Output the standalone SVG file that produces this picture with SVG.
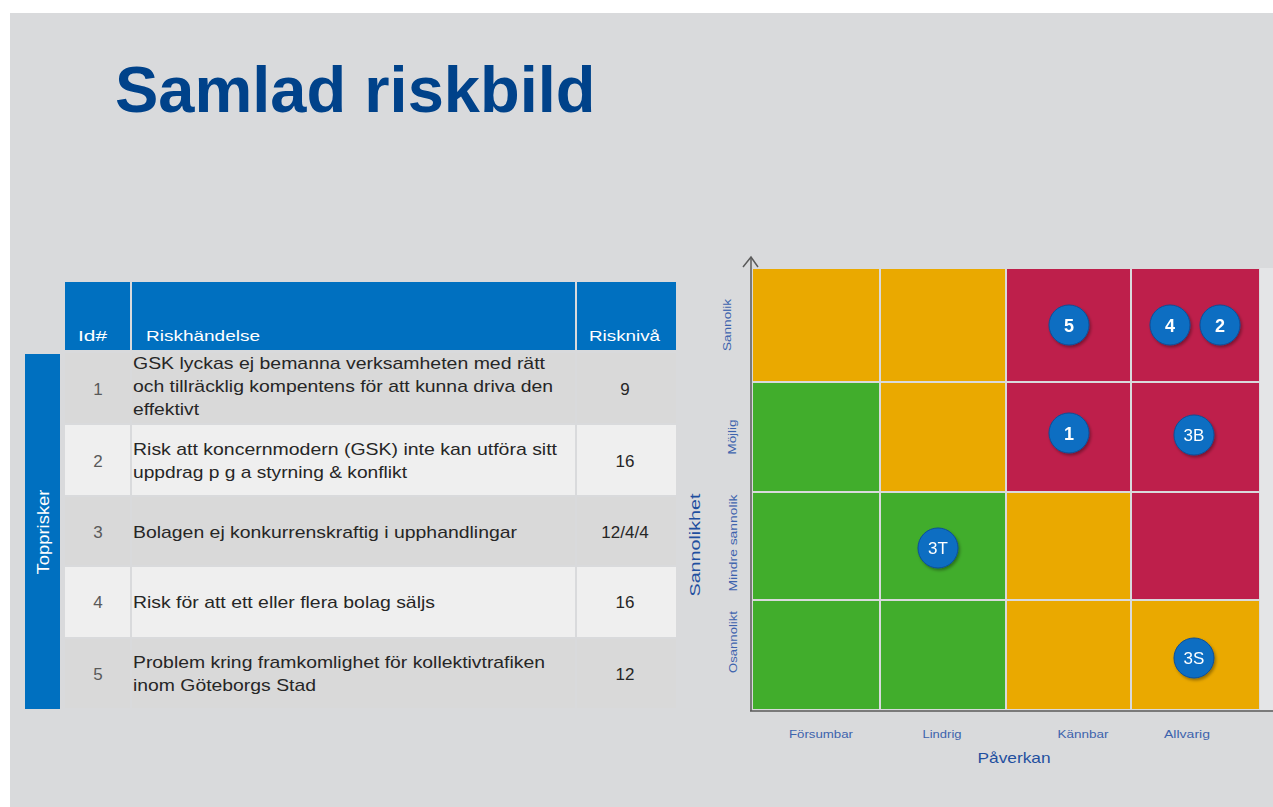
<svg xmlns="http://www.w3.org/2000/svg" width="1273" height="807" viewBox="0 0 1273 807">
<defs>
<style>
.title{font-family:"Liberation Sans",Arial,sans-serif;font-weight:bold;font-size:65px;fill:#00428a}
.hd{font-family:"Liberation Sans",Arial,sans-serif;font-size:15px;fill:#ffffff}
.tx{font-family:"Liberation Sans",Arial,sans-serif;font-size:17px;fill:#262626}
.id{font-family:"Liberation Sans",Arial,sans-serif;font-size:17px;fill:#595959;text-anchor:middle}
.val{font-family:"Liberation Sans",Arial,sans-serif;font-size:17px;fill:#262626;text-anchor:middle}
.side{font-family:"Liberation Sans",Arial,sans-serif;font-size:17px;fill:#ffffff;text-anchor:middle}
.ax{font-family:"Liberation Sans",Arial,sans-serif;font-size:11px;fill:#3d63ad;text-anchor:middle}
.axt{font-family:"Liberation Sans",Arial,sans-serif;font-size:15px;fill:#1f4f9f;text-anchor:middle}
.ct{font-family:"Liberation Sans",Arial,sans-serif;font-weight:bold;font-size:18px;fill:#ffffff;text-anchor:middle}
.ct2{font-family:"Liberation Sans",Arial,sans-serif;font-size:17px;fill:#ffffff;text-anchor:middle}
.dark{fill:#d9d9d9}
.light{fill:#efefef}
.hdr{fill:#0070c0}
.or{fill:#eaa900}
.rd{fill:#be1f4b}
.gr{fill:#41ad2c}
.dot{fill:#0a6ec2;stroke:#0b4f99;stroke-width:1}
</style>
<filter id="sh" x="-30%" y="-30%" width="160%" height="160%">
<feDropShadow dx="1.5" dy="2" stdDeviation="1.5" flood-color="#000000" flood-opacity="0.35"/>
</filter>
</defs>

<rect x="0" y="0" width="1273" height="807" fill="#ffffff"/>
<rect x="10" y="13" width="1263" height="794" fill="#d9dadc"/>
<rect x="1260" y="268" width="13" height="442" fill="#e4e5e7"/>

<text class="title" x="115" y="112">Samlad riskbild</text>

<g id="table">
<rect class="hdr" x="65" y="282" width="65" height="68"/>
<rect class="hdr" x="132" y="282" width="443" height="68"/>
<rect class="hdr" x="577" y="282" width="99" height="68"/>
<text class="hd" x="78" y="341" textLength="29" lengthAdjust="spacingAndGlyphs">Id#</text>
<text class="hd" x="146" y="341" textLength="114" lengthAdjust="spacingAndGlyphs">Riskhändelse</text>
<text class="hd" x="589" y="341" textLength="71" lengthAdjust="spacingAndGlyphs">Risknivå</text>

<g id="row1">
<rect class="dark" x="65" y="353" width="65" height="70"/>
<rect class="dark" x="132" y="353" width="443" height="70"/>
<rect class="dark" x="577" y="353" width="99" height="70"/>
<text class="id" x="98" y="395">1</text>
<text class="tx" x="133" y="369" textLength="412" lengthAdjust="spacingAndGlyphs">GSK lyckas ej bemanna  verksamheten  med rätt</text>
<text class="tx" x="133" y="392" textLength="420" lengthAdjust="spacingAndGlyphs">och tillräcklig kompentens  för att kunna driva den</text>
<text class="tx" x="133" y="415" textLength="66" lengthAdjust="spacingAndGlyphs">effektivt</text>
<text class="val" x="625" y="395">9</text>
</g>
<g id="row2">
<rect class="light" x="65" y="425" width="65" height="70"/>
<rect class="light" x="132" y="425" width="443" height="70"/>
<rect class="light" x="577" y="425" width="99" height="70"/>
<text class="id" x="98" y="467">2</text>
<text class="tx" x="133" y="455" textLength="424" lengthAdjust="spacingAndGlyphs">Risk att koncernmodern  (GSK) inte kan utföra sitt</text>
<text class="tx" x="133" y="478" textLength="274" lengthAdjust="spacingAndGlyphs">uppdrag p g a styrning &amp; konflikt</text>
<text class="val" x="625" y="467">16</text>
</g>
<g id="row3">
<rect class="dark" x="65" y="497" width="65" height="68"/>
<rect class="dark" x="132" y="497" width="443" height="68"/>
<rect class="dark" x="577" y="497" width="99" height="68"/>
<text class="id" x="98" y="538">3</text>
<text class="tx" x="133" y="538" textLength="384" lengthAdjust="spacingAndGlyphs">Bolagen ej konkurrenskraftig i upphandlingar</text>
<text class="val" x="625" y="538">12/4/4</text>
</g>
<g id="row4">
<rect class="light" x="65" y="567" width="65" height="70"/>
<rect class="light" x="132" y="567" width="443" height="70"/>
<rect class="light" x="577" y="567" width="99" height="70"/>
<text class="id" x="98" y="608">4</text>
<text class="tx" x="133" y="608" textLength="302" lengthAdjust="spacingAndGlyphs">Risk för att ett eller flera bolag säljs</text>
<text class="val" x="625" y="608">16</text>
</g>
<g id="row5">
<rect class="dark" x="65" y="639" width="65" height="69"/>
<rect class="dark" x="132" y="639" width="443" height="69"/>
<rect class="dark" x="577" y="639" width="99" height="69"/>
<text class="id" x="98" y="680">5</text>
<text class="tx" x="133" y="668" textLength="412" lengthAdjust="spacingAndGlyphs">Problem kring framkomlighet  för kollektivtrafiken</text>
<text class="tx" x="133" y="691" textLength="183" lengthAdjust="spacingAndGlyphs">inom Göteborgs Stad</text>
<text class="val" x="625" y="680">12</text>
</g>
</g>

<g id="topprisker">
<rect class="hdr" x="25" y="354" width="35" height="355"/>
<text class="side" transform="translate(49 532) rotate(-90)" textLength="85" lengthAdjust="spacingAndGlyphs">Topprisker</text>
</g>

<g id="matrix">
<rect class="or" x="753" y="269" width="126" height="112"/>
<rect class="or" x="881" y="269" width="124" height="112"/>
<rect class="rd" x="1007" y="269" width="123" height="112"/>
<rect class="rd" x="1132" y="269" width="127" height="112"/>
<rect class="gr" x="753" y="383" width="126" height="108"/>
<rect class="or" x="881" y="383" width="124" height="108"/>
<rect class="rd" x="1007" y="383" width="123" height="108"/>
<rect class="rd" x="1132" y="383" width="127" height="108"/>
<rect class="gr" x="753" y="493" width="126" height="106"/>
<rect class="gr" x="881" y="493" width="124" height="106"/>
<rect class="or" x="1007" y="493" width="123" height="106"/>
<rect class="rd" x="1132" y="493" width="127" height="106"/>
<rect class="gr" x="753" y="601" width="126" height="108"/>
<rect class="gr" x="881" y="601" width="124" height="108"/>
<rect class="or" x="1007" y="601" width="123" height="108"/>
<rect class="or" x="1132" y="601" width="127" height="108"/>
</g>

<g id="connectors" fill="none" stroke="#5a5a5a" stroke-width="1.5">
<line x1="751" y1="257" x2="751" y2="711"/>
<line x1="750" y1="711" x2="1273" y2="711"/>
<polyline points="743,267 751,257 758,267"/>
</g>

<g id="axis-labels">
<text class="ax" transform="translate(731 325) rotate(-90)" textLength="52" lengthAdjust="spacingAndGlyphs">Sannolik</text>
<text class="ax" transform="translate(736 437) rotate(-90)" textLength="35" lengthAdjust="spacingAndGlyphs">Möjlig</text>
<text class="ax" transform="translate(737 543) rotate(-90)" textLength="97" lengthAdjust="spacingAndGlyphs">Mindre sannolik</text>
<text class="ax" transform="translate(737 642) rotate(-90)" textLength="62" lengthAdjust="spacingAndGlyphs">Osannolikt</text>
<text class="axt" transform="translate(700 545) rotate(-90)" textLength="103" lengthAdjust="spacingAndGlyphs">Sannolikhet</text>
<text class="ax" x="821" y="738" textLength="64" lengthAdjust="spacingAndGlyphs">Försumbar</text>
<text class="ax" x="942" y="738" textLength="39" lengthAdjust="spacingAndGlyphs">Lindrig</text>
<text class="ax" x="1083" y="738" textLength="51" lengthAdjust="spacingAndGlyphs">Kännbar</text>
<text class="ax" x="1187" y="738" textLength="46" lengthAdjust="spacingAndGlyphs">Allvarig</text>
<text class="axt" x="1014" y="763" textLength="73" lengthAdjust="spacingAndGlyphs">Påverkan</text>
</g>

<g id="risk-5" filter="url(#sh)"><circle class="dot" cx="1069" cy="325" r="20"/><text class="ct" x="1069" y="331.5">5</text></g>
<g id="risk-4" filter="url(#sh)"><circle class="dot" cx="1170" cy="325" r="20"/><text class="ct" x="1170" y="331.5">4</text></g>
<g id="risk-2" filter="url(#sh)"><circle class="dot" cx="1220" cy="325" r="20"/><text class="ct" x="1220" y="331.5">2</text></g>
<g id="risk-1" filter="url(#sh)"><circle class="dot" cx="1069" cy="433" r="20"/><text class="ct" x="1069" y="439.5">1</text></g>
<g id="risk-3B" filter="url(#sh)"><circle class="dot" cx="1194" cy="435" r="20"/><text class="ct2" x="1194" y="441">3B</text></g>
<g id="risk-3T" filter="url(#sh)"><circle class="dot" cx="938" cy="548" r="20"/><text class="ct2" x="938" y="554">3T</text></g>
<g id="risk-3S" filter="url(#sh)"><circle class="dot" cx="1194" cy="658" r="20"/><text class="ct2" x="1194" y="664">3S</text></g>
</svg>
